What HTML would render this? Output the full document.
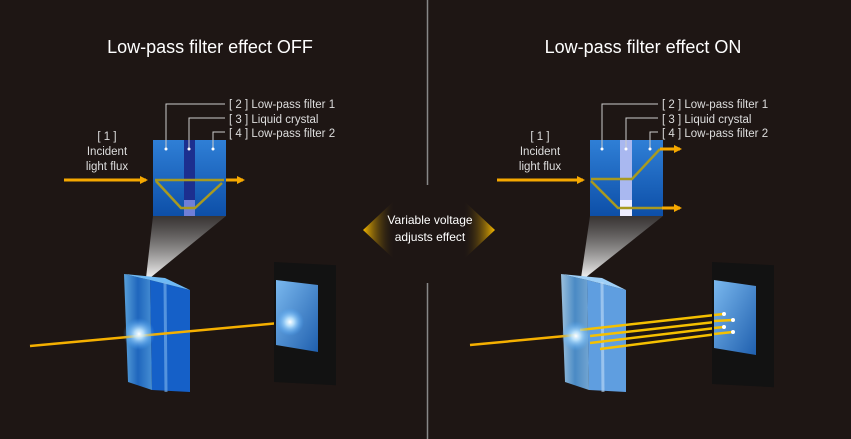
<!DOCTYPE html>
<html><head><style>html,body{margin:0;padding:0;background:#1e1614;}svg{display:block;font-family:"Liberation Sans",sans-serif;}</style></head><body>
<svg width="851" height="439" viewBox="0 0 851 439" xmlns="http://www.w3.org/2000/svg">
<defs>
<linearGradient id="bx" x1="0" y1="0" x2="0" y2="1"><stop offset="0" stop-color="#2f7fd6"/><stop offset="1" stop-color="#0d4fa8"/></linearGradient>
<linearGradient id="spot" x1="0" y1="0" x2="0" y2="1"><stop offset="0" stop-color="#555" stop-opacity="0.5"/><stop offset="1" stop-color="#fff" stop-opacity="0.95"/></linearGradient>
<linearGradient id="glass" x1="0" y1="0" x2="1" y2="0"><stop offset="0" stop-color="#5fb0f0"/><stop offset="0.5" stop-color="#1f6fd0"/><stop offset="1" stop-color="#4a9be8"/></linearGradient>
<linearGradient id="glass2" x1="0" y1="0" x2="1" y2="0"><stop offset="0" stop-color="#a9d3f3"/><stop offset="0.5" stop-color="#4f97d8"/><stop offset="1" stop-color="#7cb5e6"/></linearGradient>
<linearGradient id="scr" x1="0" y1="0" x2="1" y2="1"><stop offset="0" stop-color="#7ab8ee"/><stop offset="1" stop-color="#1f5fae"/></linearGradient>
<linearGradient id="al" x1="0" y1="0" x2="1" y2="0"><stop offset="0" stop-color="#f5b800"/><stop offset="1" stop-color="#1e1614" stop-opacity="0"/></linearGradient>
<linearGradient id="ar" x1="1" y1="0" x2="0" y2="0"><stop offset="0" stop-color="#f5b800"/><stop offset="1" stop-color="#1e1614" stop-opacity="0"/></linearGradient>
<radialGradient id="glow"><stop offset="0" stop-color="#fff"/><stop offset="0.3" stop-color="#bfe6ff" stop-opacity="0.9"/><stop offset="1" stop-color="#4aa8ff" stop-opacity="0"/></radialGradient>
<marker id="ah" markerWidth="8" markerHeight="8" refX="6" refY="4" orient="auto" markerUnits="userSpaceOnUse"><path d="M0,0 L8,4 L0,8 Z" fill="#f5a800"/></marker>
</defs>
<rect width="851" height="439" fill="#1e1614"/>
<line x1="427.5" y1="0" x2="427.5" y2="185" stroke="#888" stroke-width="1.5"/>
<line x1="427.5" y1="283" x2="427.5" y2="439" stroke="#888" stroke-width="1.5"/>

<text x="210" y="53" fill="#fff" font-size="18" text-anchor="middle">Low-pass filter effect OFF</text>
<text x="643" y="53" fill="#fff" font-size="18" text-anchor="middle">Low-pass filter effect ON</text>

<!-- LEFT -->
<g fill="#ddd" font-size="11.5">
<text x="107" y="140" text-anchor="middle">[ 1 ]</text><text x="107" y="155" text-anchor="middle">Incident</text><text x="107" y="170" text-anchor="middle">light flux</text>
<text x="229" y="108">[ 2 ] Low-pass filter 1</text><text x="229" y="123">[ 3 ] Liquid crystal</text><text x="229" y="137">[ 4 ] Low-pass filter 2</text>
</g>
<polygon points="153,216 226,216 150,278 146,278" fill="url(#spot)"/>
<rect x="153" y="140" width="73" height="76" fill="url(#bx)"/>
<rect x="184" y="140" width="11" height="76" fill="#1c2f8f"/>
<rect x="184" y="200" width="11" height="16" fill="#6f7fd8"/>
<g stroke="#ccc" stroke-width="1" fill="none">
<polyline points="166,149 166,104 225,104"/><polyline points="189,149 189,118 225,118"/><polyline points="213,149 213,132 225,132"/>
</g>
<g fill="#fff"><circle cx="166" cy="149" r="1.5"/><circle cx="189" cy="149" r="1.5"/><circle cx="213" cy="149" r="1.5"/></g>
<line x1="64" y1="180" x2="146" y2="180" stroke="#f5a800" stroke-width="3" marker-end="url(#ah)"/>
<line x1="226" y1="180" x2="243" y2="180" stroke="#f5a800" stroke-width="3" marker-end="url(#ah)"/>
<polyline points="155,180 224,180" stroke="#a89a20" stroke-width="2.5" fill="none"/>
<polyline points="156,181 181,208 195,208 222,183" stroke="#a89a20" stroke-width="2.5" fill="none"/>

<polygon points="150,280 190,290 190,392 152,390" fill="#1560c8"/>
<polygon points="124,274 150,280 152,390 128,382" fill="url(#glass)" opacity="0.9"/>
<polygon points="124,274 165,278 190,290 150,280" fill="#6fbaf5"/>
<line x1="165" y1="282" x2="166" y2="392" stroke="#7fb6ee" stroke-width="3" opacity="0.6"/>
<line x1="30" y1="346" x2="290" y2="322" stroke="#f5b000" stroke-width="2.5"/>
<rect x="274" y="262" width="62" height="120" fill="#121212" transform="skewY(3)" transform-origin="274 262"/>
<polygon points="276,280 318,285 318,352 276,345" fill="url(#scr)"/>
<circle cx="139" cy="334" r="16" fill="url(#glow)"/>
<circle cx="290" cy="322" r="14" fill="url(#glow)"/>

<!-- CENTER -->
<polygon points="395,200 363,230 395,260" fill="url(#al)"/>
<polygon points="463,200 495,230 463,260" fill="url(#ar)"/>
<text x="430" y="224" fill="#fff" font-size="12" text-anchor="middle">Variable voltage</text>
<text x="430" y="241" fill="#fff" font-size="12" text-anchor="middle">adjusts effect</text>

<!-- RIGHT -->
<g fill="#ddd" font-size="11.5">
<text x="540" y="140" text-anchor="middle">[ 1 ]</text><text x="540" y="155" text-anchor="middle">Incident</text><text x="540" y="170" text-anchor="middle">light flux</text>
<text x="662" y="108">[ 2 ] Low-pass filter 1</text><text x="662" y="123">[ 3 ] Liquid crystal</text><text x="662" y="137">[ 4 ] Low-pass filter 2</text>
</g>
<polygon points="590,216 663,216 585,278 581,278" fill="url(#spot)"/>
<rect x="590" y="140" width="73" height="76" fill="url(#bx)"/>
<rect x="620" y="140" width="12" height="76" fill="#a9b8f0"/>
<rect x="620" y="200" width="12" height="16" fill="#eef"/>
<g stroke="#ccc" stroke-width="1" fill="none">
<polyline points="602,149 602,104 658,104"/><polyline points="626,149 626,118 658,118"/><polyline points="650,149 650,132 658,132"/>
</g>
<g fill="#fff"><circle cx="602" cy="149" r="1.5"/><circle cx="626" cy="149" r="1.5"/><circle cx="650" cy="149" r="1.5"/></g>
<line x1="497" y1="180" x2="583" y2="180" stroke="#f5a800" stroke-width="3" marker-end="url(#ah)"/>
<polyline points="591,179 632,179 660,149" stroke="#a89a20" stroke-width="2.5" fill="none"/>
<polyline points="591,181 618,208 662,208" stroke="#a89a20" stroke-width="2.5" fill="none"/>
<line x1="660" y1="149" x2="680" y2="149" stroke="#f5a800" stroke-width="3" marker-end="url(#ah)"/>
<line x1="662" y1="208" x2="680" y2="208" stroke="#f5a800" stroke-width="3" marker-end="url(#ah)"/>

<polygon points="587,280 626,290 626,392 589,390" fill="#5f9ee0"/>
<polygon points="561,274 587,280 589,390 565,382" fill="url(#glass2)" opacity="0.9"/>
<polygon points="561,274 602,278 626,290 587,280" fill="#9fd0f8"/>
<line x1="602" y1="282" x2="603" y2="392" stroke="#c0dcf8" stroke-width="3" opacity="0.6"/>
<line x1="470" y1="345" x2="576" y2="335" stroke="#f5b000" stroke-width="2.5"/>
<g stroke="#f5c000" stroke-width="2.5">
<line x1="580" y1="330" x2="724" y2="314"/><line x1="590" y1="336" x2="733" y2="320"/>
<line x1="590" y1="343" x2="724" y2="327"/><line x1="600" y1="349" x2="733" y2="332"/>
</g>
<rect x="712" y="262" width="62" height="122" fill="#121212" transform="skewY(3)" transform-origin="712 262"/>
<polygon points="714,280 756,286 756,355 714,348" fill="url(#scr)"/>
<g stroke="#f5c000" stroke-width="2.5">
<line x1="714" y1="315" x2="724" y2="314"/><line x1="714" y1="321" x2="733" y2="320"/>
<line x1="714" y1="328" x2="724" y2="327"/><line x1="714" y1="334" x2="733" y2="332"/>
</g>
<g fill="#fff"><circle cx="724" cy="314" r="2"/><circle cx="733" cy="320" r="2"/><circle cx="724" cy="327" r="2"/><circle cx="733" cy="332" r="2"/></g>
<circle cx="576" cy="336" r="15" fill="url(#glow)"/>
</svg>
</body></html>
